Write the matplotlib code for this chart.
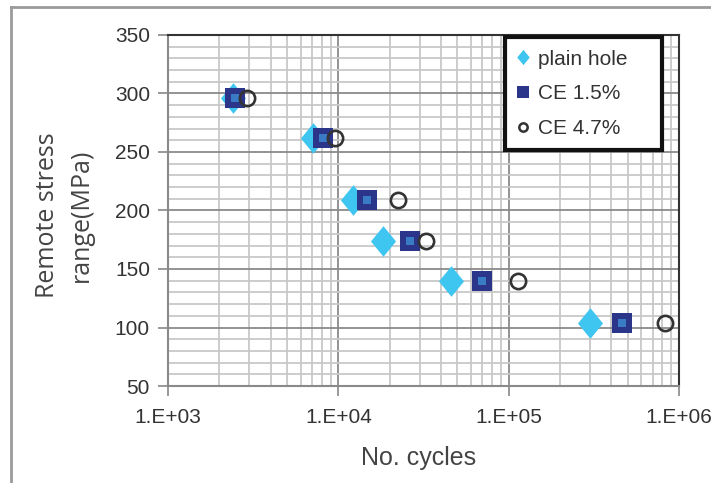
import matplotlib
matplotlib.use("Agg")
import matplotlib.pyplot as plt
from matplotlib.lines import Line2D
from matplotlib.ticker import LogLocator, FixedLocator, NullFormatter

# Data
stress = [296, 262, 209, 174, 140, 104]
plain_hole = [2400, 7100, 12200, 18400, 45700, 299000]
ce15 = [2480, 8170, 14800, 26200, 69400, 462000]
ce47 = [2920, 9600, 22500, 32500, 113000, 828000]
y_ticks = [50, 100, 150, 200, 250, 300, 350]
x_ticks = [1e3, 1e4, 1e5, 1e6]
x_ticklabels = ["1.E+03", "1.E+04", "1.E+05", "1.E+06"]

NARROW = ["Liberation Sans Narrow", "Liberation Sans", "DejaVu Sans"]

fig = plt.figure(figsize=(7.11, 4.83), dpi=100)
ax = fig.add_axes([168/711, 1-386/483, 511/711, 351/483])

# outer frame (cropped at right and bottom)
fig.add_artist(Line2D([11/711, 11/711], [0, 1-7/483], transform=fig.transFigure,
                      color="#9a9a9a", lw=2))
fig.add_artist(Line2D([11/711, 1], [1-7/483, 1-7/483], transform=fig.transFigure,
                      color="#9a9a9a", lw=2))

ax.set_xscale("log")
ax.set_xlim(1e3, 1e6)
ax.set_ylim(50, 350)

diamond = [(0, 1), (0.82, 0), (0, -1), (-0.82, 0), (0, 1)]
c_dia = "#3ec5f0"
c_sq = "#2b3589"
c_sq_in = "#3a7bc6"
c_circ = "#333333"

ax.plot(plain_hole, stress, linestyle="none", marker=diamond, markersize=22,
        color=c_dia, markeredgewidth=0, zorder=3)
ax.plot(ce15, stress, linestyle="none", marker="s", markersize=15,
        color=c_sq, markeredgewidth=0, zorder=4)
ax.plot(ce15, stress, linestyle="none", marker="s", markersize=6,
        color=c_sq_in, markeredgewidth=0, zorder=5)
ax.plot(ce47, stress, linestyle="none", marker="o", markersize=11,
        markerfacecolor="none", markeredgecolor=c_circ, markeredgewidth=1.9, zorder=6)

# grid
ax.yaxis.set_major_locator(FixedLocator(y_ticks))
ax.yaxis.set_minor_locator(FixedLocator([v for v in range(50, 351, 10) if v % 50]))
ax.xaxis.set_major_locator(FixedLocator(x_ticks))
ax.xaxis.set_minor_locator(LogLocator(base=10, subs=range(2, 10)))
ax.xaxis.set_minor_formatter(NullFormatter())
ax.grid(True, which="minor", color="#c8c8c8", lw=1.3, zorder=0)
ax.grid(True, which="major", color="#8a8a8a", lw=1.3, zorder=1)
ax.set_axisbelow(True)

ax.set_xticks(x_ticks)
ax.set_xticklabels(x_ticklabels, fontfamily=NARROW, fontsize=15, color="#333333")
ax.set_yticks(y_ticks)
ax.set_yticklabels([str(v) for v in y_ticks], fontfamily=NARROW, fontsize=15, color="#333333")
ax.tick_params(axis="both", which="major", length=7, width=1.2, color="#888888", pad=6)
ax.tick_params(axis="both", which="minor", length=0)
ax.tick_params(axis="x", which="major", pad=9)

for s in ["left", "bottom"]:
    ax.spines[s].set_color("#8a8a8a")
    ax.spines[s].set_linewidth(1.5)
for s in ["top", "right"]:
    ax.spines[s].set_color("#333333")
    ax.spines[s].set_linewidth(1.5)

ax.set_xlabel("No. cycles", fontfamily=NARROW, fontsize=18, color="#444444")
ax.xaxis.set_label_coords(0.49, -0.17)
ax.set_ylabel("Remote stress\nrange(MPa)", fontfamily=["Open Sans", "DejaVu Sans"],
              fontsize=18, color="#444444", linespacing=1.45)
ax.yaxis.set_label_coords(-0.146, 0.487)

handles = [
    Line2D([], [], linestyle="none", marker=diamond, markersize=11, color=c_dia, markeredgewidth=0),
    Line2D([], [], linestyle="none", marker="s", markersize=9, color=c_sq, markeredgewidth=0),
    Line2D([], [], linestyle="none", marker="o", markersize=6, markerfacecolor="none",
           markeredgecolor=c_circ, markeredgewidth=1.8),
]
leg = ax.legend(handles, ["plain hole", "CE 1.5%", "CE 4.7%"], loc="upper left",
                bbox_to_anchor=(0.659, 0.658, 0.308, 0.336), mode="expand",
                prop={"family": NARROW, "size": 15}, frameon=True, fancybox=False,
                edgecolor="#111111", framealpha=1, handlelength=0.6, handletextpad=0.4,
                borderpad=0.6, labelspacing=0.75, borderaxespad=0)
leg.get_frame().set_linewidth(3)
for t in leg.get_texts():
    t.set_color("#333333")

fig.savefig("out.png", dpi=100)
